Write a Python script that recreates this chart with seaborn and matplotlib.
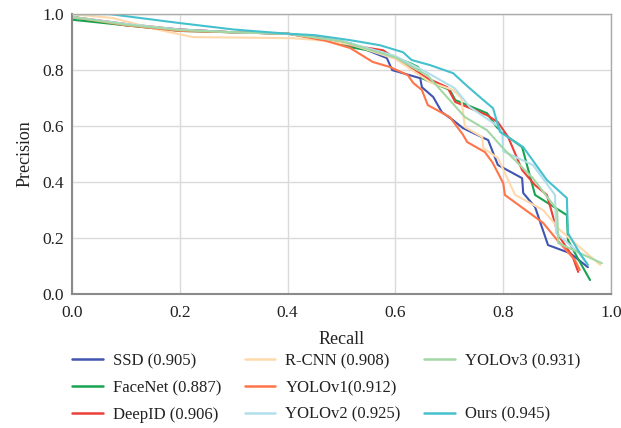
import matplotlib
matplotlib.use("Agg")
import matplotlib.pyplot as plt
from matplotlib.lines import Line2D
import seaborn as sns
import pandas as pd

# Precision-recall curves: recall (x) and precision (y) for each detector
ssd_r = [0.0, 0.1, 0.2, 0.3, 0.4, 0.47, 0.516, 0.584, 0.594, 0.646, 0.649, 0.67, 0.686, 0.707, 0.725,
         0.772, 0.79, 0.835, 0.837, 0.859, 0.883, 0.924, 0.957]
ssd_p = [0.99, 0.96, 0.945, 0.935, 0.93, 0.91, 0.896, 0.843, 0.80, 0.771, 0.739, 0.704, 0.65, 0.621, 0.593,
         0.55, 0.461, 0.414, 0.361, 0.311, 0.175, 0.146, 0.096]

facenet_r = [0.0, 0.1, 0.2, 0.3, 0.4, 0.47, 0.516, 0.58, 0.627, 0.642, 0.649, 0.701, 0.711, 0.770, 0.788,
             0.809, 0.835, 0.844, 0.859, 0.918, 0.92, 0.937, 0.961]
facenet_p = [0.98, 0.96, 0.94, 0.935, 0.93, 0.915, 0.882, 0.86, 0.825, 0.811, 0.771, 0.729, 0.693, 0.646, 0.596,
             0.561, 0.525, 0.461, 0.354, 0.282, 0.193, 0.132, 0.05]

deepid_r = [0.0, 0.1, 0.2, 0.3, 0.4, 0.47, 0.516, 0.577, 0.596, 0.659, 0.696, 0.711, 0.770, 0.79, 0.809,
            0.835, 0.859, 0.881, 0.902, 0.929, 0.939]
deepid_p = [0.99, 0.965, 0.945, 0.935, 0.93, 0.915, 0.889, 0.871, 0.846, 0.771, 0.739, 0.686, 0.639, 0.614, 0.561,
            0.443, 0.389, 0.354, 0.211, 0.132, 0.079]

rcnn_r = [0.0, 0.076, 0.163, 0.224, 0.41, 0.47, 0.52, 0.6, 0.664, 0.707, 0.722, 0.729, 0.761, 0.763, 0.79,
          0.822, 0.874, 0.905, 0.98]
rcnn_p = [1.0, 0.986, 0.943, 0.918, 0.914, 0.905, 0.89, 0.84, 0.757, 0.729, 0.70, 0.596, 0.561, 0.521, 0.486,
          0.354, 0.30, 0.229, 0.104]

yolo1_r = [0.0, 0.1, 0.2, 0.3, 0.4, 0.47, 0.516, 0.558, 0.59, 0.623, 0.633, 0.649, 0.66, 0.701, 0.725,
           0.733, 0.766, 0.78, 0.8, 0.803, 0.874, 0.9, 0.933, 0.942]
yolo1_p = [0.99, 0.96, 0.94, 0.935, 0.93, 0.905, 0.879, 0.829, 0.811, 0.782, 0.754, 0.729, 0.675, 0.632, 0.57,
           0.543, 0.507, 0.47, 0.396, 0.354, 0.254, 0.193, 0.121, 0.086]

yolo2_r = [0.0, 0.1, 0.2, 0.3, 0.4, 0.5, 0.6, 0.66, 0.71, 0.738, 0.79, 0.798, 0.80, 0.855, 0.896, 0.898,
           0.939, 0.955]
yolo2_p = [0.99, 0.965, 0.945, 0.935, 0.93, 0.905, 0.85, 0.79, 0.735, 0.668, 0.60, 0.58, 0.51, 0.461, 0.354, 0.218,
           0.15, 0.11]

yolo3_r = [0.0, 0.1, 0.2, 0.3, 0.4, 0.5, 0.6, 0.66, 0.729, 0.77, 0.8, 0.855, 0.9, 0.902, 0.983]
yolo3_p = [0.99, 0.962, 0.943, 0.935, 0.93, 0.903, 0.845, 0.78, 0.632, 0.585, 0.52, 0.414, 0.30, 0.182, 0.11]

ours_r = [0.0, 0.07, 0.2, 0.3, 0.4, 0.45, 0.516, 0.571, 0.614, 0.63, 0.664, 0.707, 0.733, 0.763, 0.781,
          0.794, 0.837, 0.881, 0.918, 0.92, 0.942, 0.957]
ours_p = [1.0, 1.0, 0.968, 0.945, 0.93, 0.925, 0.907, 0.889, 0.864, 0.836, 0.818, 0.789, 0.743, 0.693, 0.664,
          0.579, 0.525, 0.407, 0.343, 0.218, 0.146, 0.104]

labels = ["SSD (0.905)", "FaceNet (0.887)", "DeepID (0.906)", "R-CNN (0.908)",
          "YOLOv1(0.912)", "YOLOv2 (0.925)", "YOLOv3 (0.931)", "Ours (0.945)"]
colors = ["#4154B0", "#17A350", "#EC3F38", "#FFD9AC",
          "#FF7448", "#B0DFEA", "#A3D8A5", "#45C1CE"]
series = [(ssd_r, ssd_p), (facenet_r, facenet_p), (deepid_r, deepid_p), (rcnn_r, rcnn_p),
          (yolo1_r, yolo1_p), (yolo2_r, yolo2_p), (yolo3_r, yolo3_p), (ours_r, ours_p)]

frames = []
for lab, (r, p) in zip(labels, series):
    frames.append(pd.DataFrame({"Recall": r, "Precision": p, "Model": lab}))
df = pd.concat(frames, ignore_index=True)

sns.set_style("whitegrid")
plt.rcParams["font.family"] = ["Liberation Serif", "DejaVu Serif"]

fig = plt.figure(figsize=(6.21, 4.28), dpi=100)
ax = fig.add_axes([0.116, 0.313, 0.868, 0.654])

sns.lineplot(data=df, x="Recall", y="Precision", hue="Model", hue_order=labels,
             palette=dict(zip(labels, colors)), sort=False, estimator=None,
             units="Model", linewidth=1.5, ax=ax, legend=False)

ax.set_xlim(0, 1.0)
ax.set_ylim(0, 1.0)
ax.set_xticks([0, 0.2, 0.4, 0.6, 0.8, 1.0])
ax.set_yticks([0, 0.2, 0.4, 0.6, 0.8, 1.0])
ax.set_xticklabels([f"{v:.1f}" for v in ax.get_xticks()])
ax.set_yticklabels([f"{v:.1f}" for v in ax.get_yticks()])
ax.tick_params(axis="both", labelsize=12.5, colors="#222222", length=3, width=0.8,
               direction="out")
ax.tick_params(axis="x", pad=5)
ax.tick_params(axis="y", pad=3)
ax.tick_params(axis="both", color="#888888")
ax.grid(True, color="#DADADA", linewidth=1.0)
for side in ["top", "right"]:
    ax.spines[side].set_color("#AAAAAA")
    ax.spines[side].set_linewidth(1.0)
for side in ["left", "bottom"]:
    ax.spines[side].set_color("#8A8A8A")
    ax.spines[side].set_linewidth(1.5)
ax.set_xlabel("Recall", fontsize=13, color="#222222", labelpad=7)
ax.set_ylabel("Precision", fontsize=13, color="#222222", labelpad=6)

# Legend: three columns, with an empty slot in the third column
handles = [Line2D([], [], color=c, linewidth=1.8) for c in colors]
leg_handles = handles[:7] + [Line2D([], [], color="none")] + handles[7:]
leg_labels = labels[:7] + [""] + labels[7:]
fig.legend(leg_handles, leg_labels, ncol=3, loc="upper left",
           bbox_to_anchor=(0.116, 0.175), frameon=False, fontsize=12,
           borderpad=0, borderaxespad=0,
           handlelength=1.85, handletextpad=0.6, columnspacing=1.4,
           labelspacing=0.65, labelcolor="#222222")

fig.savefig("out.png", dpi=100)
